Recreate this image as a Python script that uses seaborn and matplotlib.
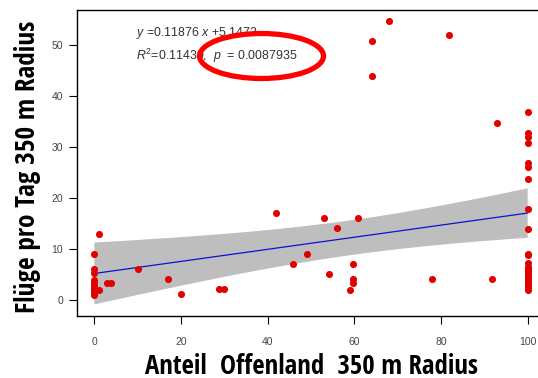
import os
import numpy as np
import matplotlib
matplotlib.use("Agg")
import matplotlib.pyplot as plt
from matplotlib.patches import Ellipse
from matplotlib import font_manager
from matplotlib.font_manager import FontProperties
import seaborn as sns
import pandas as pd

# ---- data (a few overlapping points in the dense
#      clusters at x=0 and x=100 are estimated so that the printed fit holds) ----
anteil_offenland = [0, 0, 0, 0, 0, 0, 0, 0, 0, 0,
                    1.1, 1.1, 2.9, 3.9, 10, 17, 20, 28.8, 29.9,
                    42, 45.9, 49, 53, 54.1, 55.9, 59.8, 59.8, 59.8, 59, 60.9,
                    64, 64, 67.9, 77.9, 81.9, 91.8, 92.9,
                    100, 100, 100, 100, 100, 100, 100, 100, 100,
                    100, 100, 100, 100, 100, 100, 100, 100,
                    100, 100, 100, 100, 100, 100]
fluege_pro_tag = [9.0, 6.0, 5.3, 3.2, 2.2, 1.6, 1.0, 1.3, 2.7, 3.9,
                  13.0, 2.0, 3.2, 3.2, 6.1, 4.1, 1.1, 2.1, 2.1,
                  17.0, 7.1, 9.0, 16.1, 5.0, 14.1, 7.1, 4.1, 3.2, 1.9, 16.1,
                  50.8, 43.9, 54.8, 4.1, 51.9, 4.1, 34.8,
                  36.8, 32.8, 31.9, 30.8, 26.9, 26.0, 23.8, 17.8, 13.9,
                  9.0, 7.2, 6.4, 5.6, 4.7, 3.9, 3.0, 2.0,
                  2.5, 3.5, 4.3, 5.2, 6.0, 8.7]
x_ticks = [0, 20, 40, 60, 80, 100]
y_ticks = [0, 10, 20, 30, 40, 50]
eq_line1 = r"$\mathit{y}$ =0.11876 $\mathit{x}$ +5.1472"
eq_line2 = r"$\mathit{R}^{2}$=0.11439,  $\mathit{p}$  = 0.0087935"
x_label = "Anteil  Offenland  350 m Radius"
y_label = "Flüge pro Tag 350 m Radius"

df = pd.DataFrame({"x": anteil_offenland, "y": fluege_pro_tag})

sns.set_style("white")
plt.rcParams["font.family"] = ["Liberation Sans", "DejaVu Sans"]
plt.rcParams["mathtext.fontset"] = "custom"
plt.rcParams["mathtext.rm"] = "Liberation Sans"
plt.rcParams["mathtext.it"] = "Liberation Sans:italic"


def _is_bold(w):
    if isinstance(w, (int, float)):
        return w >= 600
    return str(w).lower() in ("bold", "heavy", "black", "demibold", "semibold", "extra bold", "ultrabold")


def pick_label_font():
    prefs = ["ubuntu condensed", "open sans condensed", "roboto condensed", "liberation sans narrow",
             "dejavu sans condensed", "noto sans condensed", "lato condensed"]
    found = []
    for f in font_manager.fontManager.ttflist:
        key = (f.name + " " + os.path.basename(f.fname)).lower()
        cond = ("condensed" in key or "narrow" in key or
                str(f.stretch).lower() in ("condensed", "semi-condensed", "extra-condensed"))
        if cond and _is_bold(f.weight) and "italic" not in key and "oblique" not in key:
            rank = len(prefs)
            for i, p in enumerate(prefs):
                if all(tok in key for tok in p.split()):
                    rank = i
                    break
            found.append((rank, f.fname))
    if found:
        found.sort()
        return FontProperties(fname=found[0][1])
    return FontProperties(family="Roboto", weight="bold")


label_fp = pick_label_font()

fig = plt.figure(figsize=(5.38, 3.78), dpi=100)
W, H = 538, 378
ax = fig.add_axes([77 / W, 62 / H, 468 / W, 306 / H])

# points + fitted line with seaborn
sns.regplot(data=df, x="x", y="y", ax=ax, ci=None,
            scatter_kws=dict(color="#e00000", s=26, linewidths=0, zorder=4, alpha=1),
            line_kws=dict(color="#1010d0", lw=0.9, zorder=3))

# analytic 95% confidence band of the linear fit (as in the reference)
xv = df["x"].to_numpy(float)
yv = df["y"].to_numpy(float)
n = len(xv)
b, a = np.polyfit(xv, yv, 1)
resid = yv - (a + b * xv)
s = np.sqrt(np.sum(resid ** 2) / (n - 2))
sxx = np.sum((xv - xv.mean()) ** 2)
grid = np.linspace(xv.min(), xv.max(), 100)
se = s * np.sqrt(1.0 / n + (grid - xv.mean()) ** 2 / sxx)
t975 = 2.0017  # Student t quantile, 58 degrees of freedom
ax.fill_between(grid, a + b * grid - t975 * se, a + b * grid + t975 * se,
                facecolor="#bebebe", edgecolor="none", zorder=1)

ax.set_xlim(-4, 104)
ax.set_ylim(-3.2, 56.9)
ax.set_xticks(x_ticks)
ax.set_yticks(y_ticks)
ax.tick_params(axis="both", direction="out", length=6, width=0.8, color="black",
               labelsize=7.5, labelcolor="#444444", bottom=True, left=True)
ax.tick_params(axis="x", pad=9)
ax.tick_params(axis="y", pad=4)
for side in ["left", "bottom", "top", "right"]:
    ax.spines[side].set_visible(True)
    ax.spines[side].set_color("black")
    ax.spines[side].set_linewidth(1.0)

# axis titles, sized to the reference extents
xl = ax.set_xlabel(x_label, fontproperties=label_fp, color="black")
yl = ax.set_ylabel(y_label, fontproperties=label_fp, color="black")
xl.set_fontsize(19)
yl.set_fontsize(19)
fig.canvas.draw()
r = fig.canvas.get_renderer()
xw = xl.get_window_extent(r).width
yh = yl.get_window_extent(r).height
xl.set_fontsize(min(26, 19 * 333 / xw))
yl.set_fontsize(min(26, 19 * 293 / yh))
xl.set_va("baseline")
ax.xaxis.set_label_coords((311.5 - 77) / 468, -(373.5 - 316) / 306)
yl.set_va("center")
ax.yaxis.set_label_coords((28 - 77) / 468, (316 - 166.5) / 306)

fig.text(136 / W, 1 - 33 / H, eq_line1, fontsize=8.9, color="#333333", va="center", ha="left")
fig.text(136 / W, 1 - 56 / H, eq_line2, fontsize=8.9, color="#333333", va="center", ha="left")

ell = Ellipse((261.5 / W, 1 - 56 / H), 124 / W, 45 / H, transform=fig.transFigure,
              fill=False, edgecolor="#ff0000", linewidth=3.8, zorder=10)
fig.patches.append(ell)

fig.savefig("out.png", dpi=100)
